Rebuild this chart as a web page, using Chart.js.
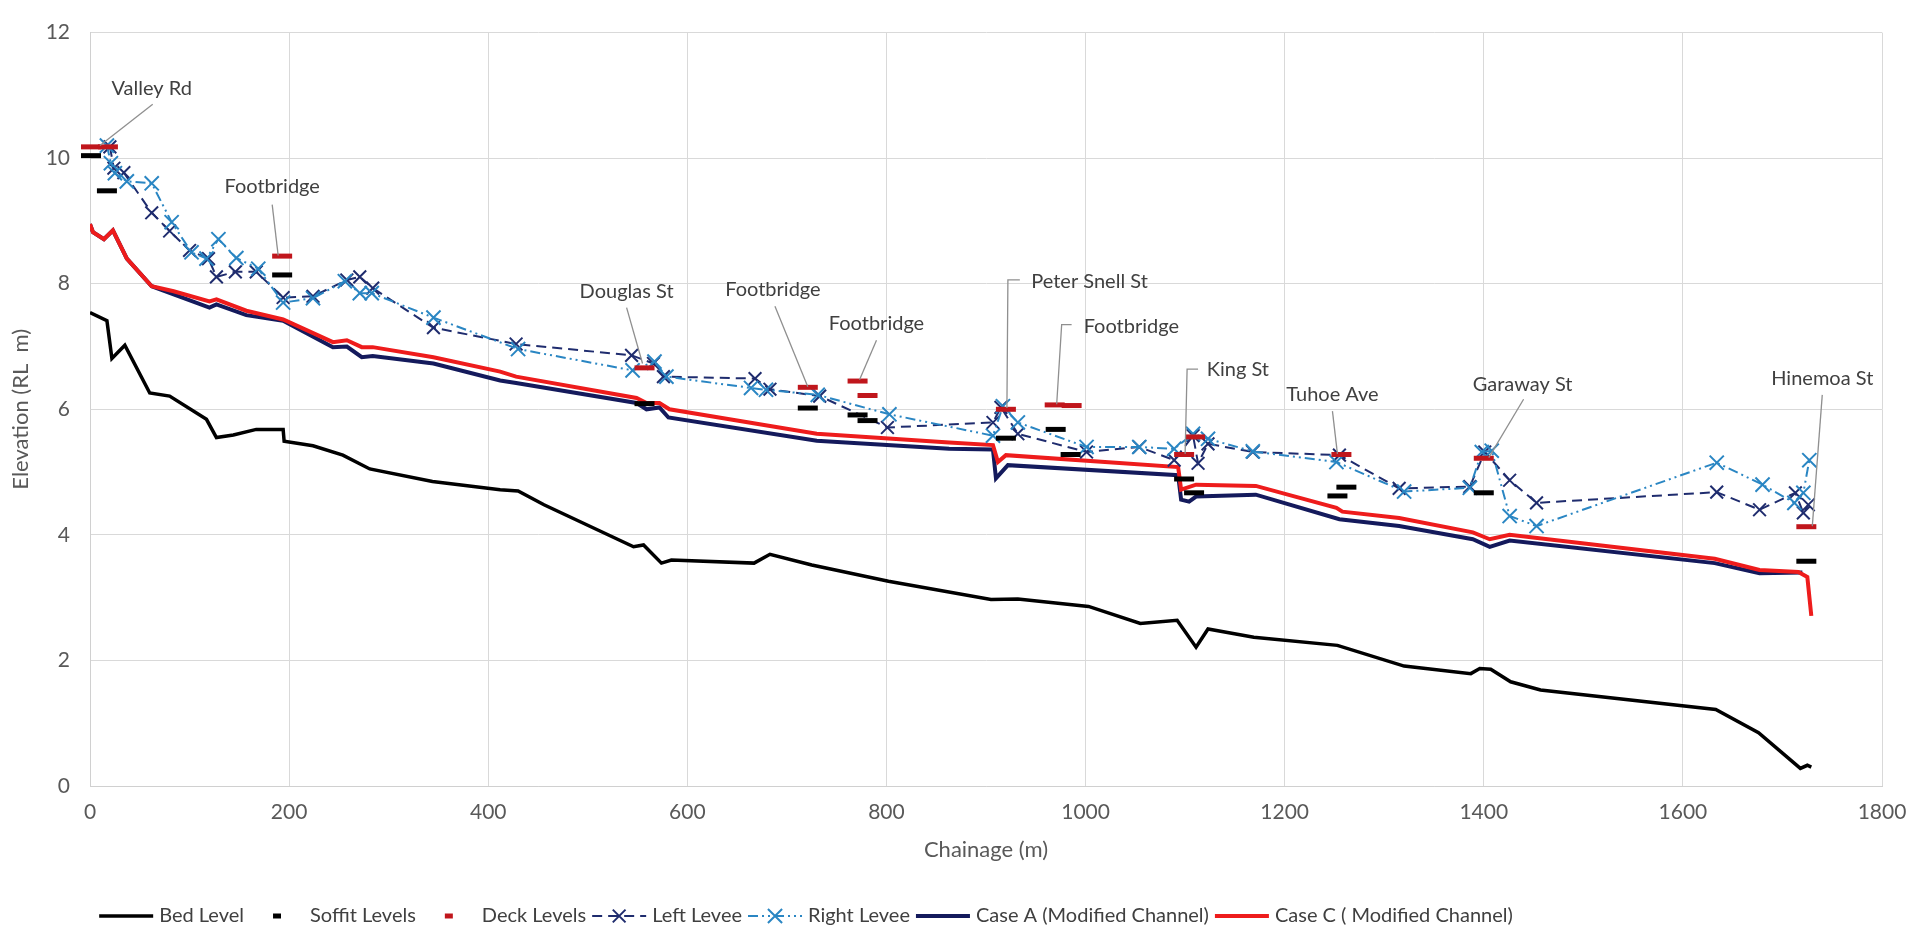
<!DOCTYPE html>
<html>
<head>
<meta charset="utf-8">
<title>Long section – modelled water levels</title>
<script src="https://cdn.jsdelivr.net/npm/chart.js@4.4.1/dist/chart.umd.min.js"></script>
<style>
  html, body { margin: 0; padding: 0; background: #ffffff; }
  #wrap { width: 1926px; height: 935px; }
</style>
</head>
<body>
<div id="wrap"><canvas id="chart" width="1926" height="935"></canvas></div>
<script>
// ---- Long-section data (chainage in m, levels in m RL) ----
const bedChainage = [0, 17, 22, 35, 60, 80, 117, 127, 144, 167, 194, 195, 224, 254, 281, 344, 412, 430, 456, 546, 556, 574, 584, 667, 683, 725, 802, 905, 932, 1003, 1055, 1092, 1111, 1123, 1169, 1253, 1320, 1387, 1396, 1407, 1427, 1457, 1633, 1676, 1718, 1725, 1729];
const bedLevel = [7.54, 7.41, 6.81, 7.02, 6.26, 6.21, 5.84, 5.55, 5.59, 5.68, 5.68, 5.49, 5.42, 5.27, 5.05, 4.85, 4.72, 4.70, 4.48, 3.81, 3.84, 3.55, 3.60, 3.55, 3.69, 3.52, 3.26, 2.97, 2.98, 2.86, 2.59, 2.64, 2.21, 2.50, 2.37, 2.24, 1.91, 1.79, 1.87, 1.86, 1.66, 1.53, 1.22, 0.85, 0.28, 0.33, 0.30];

const soffitChainage = [1, 17, 193, 557, 721, 771, 781, 920, 970, 985, 1099, 1109, 1253, 1262, 1400, 1724];
const soffitLevel = [10.04, 9.48, 8.14, 6.09, 6.02, 5.91, 5.82, 5.54, 5.68, 5.28, 4.89, 4.67, 4.62, 4.76, 4.67, 3.58];

const deckChainage = [1, 18, 193, 557, 721, 771, 781, 920, 969, 986, 1099, 1110, 1257, 1400, 1724];
const deckLevel = [10.18, 10.18, 8.44, 6.66, 6.35, 6.45, 6.22, 6.00, 6.07, 6.06, 5.28, 5.56, 5.28, 5.22, 4.13];

const leftLeveeChainage = [20, 24, 34, 62, 80, 100, 119, 127, 146, 167, 194, 224, 258, 271, 284, 345, 428, 544, 566, 576, 668, 683, 733, 801, 907, 915, 932, 1001, 1054, 1089, 1108, 1113, 1123, 1168, 1255, 1315, 1386, 1401, 1426, 1453, 1634, 1677, 1713, 1721, 1726];
const leftLeveeLevel = [10.18, 9.84, 9.77, 9.13, 8.84, 8.53, 8.40, 8.11, 8.19, 8.19, 7.78, 7.80, 8.06, 8.11, 7.93, 7.30, 7.04, 6.86, 6.73, 6.52, 6.49, 6.32, 6.21, 5.71, 5.79, 6.03, 5.61, 5.32, 5.40, 5.19, 5.58, 5.14, 5.45, 5.32, 5.27, 4.74, 4.77, 5.32, 4.87, 4.51, 4.68, 4.40, 4.67, 4.35, 4.48];

const rightLeveeChainage = [17, 21, 25, 37, 62, 82, 102, 117, 129, 147, 169, 194, 224, 256, 271, 283, 345, 430, 545, 567, 579, 664, 679, 731, 803, 907, 917, 932, 1001, 1054, 1089, 1108, 1123, 1168, 1252, 1320, 1386, 1398, 1408, 1426, 1453, 1634, 1680, 1712, 1721, 1727];
const rightLeveeLevel = [10.20, 9.92, 9.76, 9.63, 9.60, 8.98, 8.50, 8.40, 8.71, 8.41, 8.24, 7.70, 7.77, 8.04, 7.85, 7.85, 7.46, 6.96, 6.62, 6.76, 6.52, 6.34, 6.31, 6.23, 5.92, 5.58, 6.05, 5.79, 5.40, 5.40, 5.37, 5.61, 5.53, 5.33, 5.16, 4.69, 4.75, 5.32, 5.34, 4.30, 4.14, 5.15, 4.80, 4.51, 4.67, 5.19];

const caseAChainage = [0, 3, 14, 23, 37, 62, 84, 120, 127, 157, 194, 244, 258, 273, 284, 345, 412, 428, 549, 559, 572, 581, 730, 863, 907, 910, 922, 1093, 1096, 1104, 1111, 1171, 1255, 1315, 1389, 1406, 1426, 1632, 1677, 1720];
const caseALevel = [8.95, 8.82, 8.71, 8.85, 8.40, 7.96, 7.83, 7.62, 7.67, 7.50, 7.41, 6.99, 7.00, 6.83, 6.85, 6.73, 6.46, 6.42, 6.10, 6.00, 6.03, 5.87, 5.50, 5.37, 5.36, 4.90, 5.11, 4.95, 4.56, 4.53, 4.61, 4.64, 4.25, 4.14, 3.93, 3.81, 3.91, 3.55, 3.39, 3.40];

const caseCChainage = [0, 3, 14, 23, 37, 62, 84, 120, 127, 157, 194, 244, 258, 273, 284, 345, 412, 428, 549, 559, 572, 582, 730, 863, 907, 912, 920, 1093, 1096, 1111, 1171, 1252, 1258, 1315, 1389, 1406, 1426, 1632, 1677, 1716, 1725, 1729];
const caseCLevel = [8.95, 8.82, 8.71, 8.85, 8.40, 7.96, 7.88, 7.72, 7.75, 7.57, 7.43, 7.07, 7.10, 6.99, 6.99, 6.83, 6.60, 6.52, 6.18, 6.10, 6.10, 6.00, 5.61, 5.47, 5.43, 5.16, 5.27, 5.08, 4.72, 4.80, 4.78, 4.43, 4.37, 4.27, 4.04, 3.93, 4.00, 3.62, 3.44, 3.41, 3.33, 2.71];

// Axis ticks
const chainageTicks = [0, 200, 400, 600, 800, 1000, 1200, 1400, 1600, 1800];
const elevationTicks = [0, 2, 4, 6, 8, 10, 12];

// Structure names and where their callouts sit (chainage, elevation)
const structureNames = ['Valley Rd', 'Footbridge', 'Douglas St', 'Footbridge', 'Footbridge', 'Peter Snell St', 'Footbridge', 'King St', 'Tuhoe Ave', 'Garaway St', 'Hinemoa St'];
const calloutAt = [[62, 11.11], [183, 9.55], [539, 7.88], [686, 7.90], [790, 7.37], [1004, 8.04], [1046, 7.32], [1153, 6.63], [1248, 6.24], [1439, 6.39], [1740, 6.49]];
const calloutLeader = [
  [[63, 10.86], [10, 10.20]],
  [[183, 9.26], [189, 8.45]],
  [[539, 7.62], [555, 6.73]],
  [[688, 7.64], [721, 6.36]],
  [[790, 7.10], [773, 6.47]],
  [[934, 8.06], [922, 8.06], [921, 6.02]],
  [[986, 7.35], [976, 7.35], [971, 6.08]],
  [[1113, 6.64], [1102, 6.64], [1100, 5.29]],
  [[1248, 5.97], [1253, 5.29]],
  [[1440, 6.16], [1405, 5.23]],
  [[1740, 6.23], [1730, 4.14]]
];

const pairs = (xs, ys) => xs.map((x, i) => ({ x: x, y: ys[i] }));

const FONT = 'Lato';
const TEXT = '#404040';

// Callout labels with grey leader lines
const calloutPlugin = {
  id: 'callouts',
  afterDatasetsDraw(chart) {
    const { ctx, scales: { x, y } } = chart;
    ctx.save();
    ctx.strokeStyle = '#8f8f8f';
    ctx.lineWidth = 1.3;
    calloutLeader.forEach(path => {
      ctx.beginPath();
      path.forEach((p, i) => {
        const px = x.getPixelForValue(p[0]), py = y.getPixelForValue(p[1]);
        if (i === 0) ctx.moveTo(px, py); else ctx.lineTo(px, py);
      });
      ctx.stroke();
    });
    ctx.fillStyle = TEXT;
    ctx.font = '20px ' + FONT;
    ctx.textAlign = 'center';
    ctx.textBaseline = 'middle';
    structureNames.forEach((name, i) => {
      ctx.fillText(name, x.getPixelForValue(calloutAt[i][0]), y.getPixelForValue(calloutAt[i][1]));
    });
    ctx.restore();
  }
};

// Legend row under the axis title: line / marker samples drawn from each dataset's style
const legendPlugin = {
  id: 'rowLegend',
  afterDraw(chart) {
    const { ctx } = chart;
    const sets = chart.data.datasets.slice().sort((a, b) => a.legendIndex - b.legendIndex);
    const sampleW = 54, gapText = 6, gapItem = 6, cy = 916;
    ctx.save();
    ctx.font = '20px ' + FONT;
    const widths = sets.map(ds => sampleW + gapText + ctx.measureText(ds.label).width);
    const total = widths.reduce((a, b) => a + b, 0) + gapItem * (sets.length - 1);
    let x0 = 806 - total / 2;
    sets.forEach((ds, i) => {
      const cx = x0 + sampleW / 2;
      if (ds.showLine !== false) {
        ctx.save();
        ctx.strokeStyle = ds.borderColor;
        ctx.lineWidth = ds.borderWidth;
        ctx.setLineDash(ds.borderDash || []);
        ctx.beginPath();
        ctx.moveTo(x0, cy);
        ctx.lineTo(x0 + sampleW, cy);
        ctx.stroke();
        ctx.restore();
      }
      if (ds.pointRadius > 0) {
        ctx.save();
        ctx.strokeStyle = ds.borderColor;
        ctx.fillStyle = ds.borderColor;
        ctx.lineWidth = ds.pointBorderWidth;
        ctx.setLineDash([]);
        const r = ds.pointStyle === 'line' ? 4 : ds.pointRadius;
        Chart.helpers.drawPoint(ctx, { pointStyle: ds.pointStyle, rotation: 0, radius: r, borderWidth: ds.pointBorderWidth }, cx, cy);
        ctx.restore();
      }
      ctx.fillStyle = TEXT;
      ctx.textAlign = 'left';
      ctx.textBaseline = 'middle';
      ctx.fillText(ds.label, x0 + sampleW + gapText, cy);
      x0 += widths[i] + gapItem;
    });
    ctx.restore();
  }
};

function build() {
  Chart.defaults.font.family = FONT;
  Chart.defaults.color = '#595959';

  new Chart(document.getElementById('chart'), {
    type: 'line',
    data: {
      datasets: [
        {
          label: 'Bed Level', legendIndex: 0, order: 6,
          data: pairs(bedChainage, bedLevel),
          borderColor: '#000000', borderWidth: 3.5, pointRadius: 0, tension: 0
        },
        {
          label: 'Soffit Levels', legendIndex: 1, order: 1, showLine: false, clip: false,
          data: pairs(soffitChainage, soffitLevel),
          borderColor: '#000000', backgroundColor: '#000000',
          pointStyle: 'line', pointRadius: 10, pointBorderWidth: 5, pointHoverRadius: 10
        },
        {
          label: 'Deck Levels', legendIndex: 2, order: 0, showLine: false, clip: false,
          data: pairs(deckChainage, deckLevel),
          borderColor: '#c0161c', backgroundColor: '#c0161c',
          pointStyle: 'line', pointRadius: 10, pointBorderWidth: 5, pointHoverRadius: 10
        },
        {
          label: 'Left Levee', legendIndex: 3, order: 3,
          data: pairs(leftLeveeChainage, leftLeveeLevel),
          borderColor: '#1f2c6e', backgroundColor: '#1f2c6e', borderWidth: 2, borderDash: [10, 6],
          pointStyle: 'crossRot', pointRadius: 9, pointBorderWidth: 2, tension: 0
        },
        {
          label: 'Right Levee', legendIndex: 4, order: 2,
          data: pairs(rightLeveeChainage, rightLeveeLevel),
          borderColor: '#2a86c3', backgroundColor: '#2a86c3', borderWidth: 2, borderDash: [10, 4, 2, 4, 2, 4],
          pointStyle: 'crossRot', pointRadius: 10, pointBorderWidth: 2, tension: 0
        },
        {
          label: 'Case A (Modified Channel)', legendIndex: 5, order: 5,
          data: pairs(caseAChainage, caseALevel),
          borderColor: '#141a5c', borderWidth: 4, pointRadius: 0, tension: 0
        },
        {
          label: 'Case C ( Modified Channel)', legendIndex: 6, order: 4,
          data: pairs(caseCChainage, caseCLevel),
          borderColor: '#ee1c1c', borderWidth: 4, pointRadius: 0, tension: 0
        }
      ]
    },
    options: {
      responsive: false,
      animation: false,
      events: [],
      layout: { padding: { top: 21, right: 44, bottom: 62, left: 0 } },
      plugins: { legend: { display: false }, tooltip: { enabled: false } },
      scales: {
        x: {
          type: 'linear', min: 0, max: 1800,
          afterBuildTicks: s => { s.ticks = chainageTicks.map(v => ({ value: v })); },
          afterFit: s => { s.height = 87; },
          grid: { color: '#d9d9d9', lineWidth: 1, drawTicks: false },
          border: { color: '#d0d0d0', width: 1 },
          ticks: { padding: 14, font: { size: 21 }, color: '#595959', maxRotation: 0, callback: v => String(v) },
          title: { display: true, text: 'Chainage (m)', font: { size: 22 }, color: '#595959', padding: { top: 0, bottom: 10 } }
        },
        y: {
          type: 'linear', min: 0, max: 12,
          afterBuildTicks: s => { s.ticks = elevationTicks.map(v => ({ value: v })); },
          afterFit: s => { s.width = 90; },
          grid: { color: '#d9d9d9', lineWidth: 1, drawTicks: false },
          border: { color: '#d0d0d0', width: 1 },
          ticks: { padding: 20, font: { size: 21 }, color: '#595959', callback: v => String(v) },
          title: { display: true, text: 'Elevation (RL  m)', font: { size: 22 }, color: '#595959', padding: { top: 8, bottom: 0 } }
        }
      }
    },
    plugins: [calloutPlugin, legendPlugin]
  });
}

if (document.fonts && document.fonts.load) {
  Promise.all([document.fonts.load('20px Lato'), document.fonts.load('21px Lato')]).then(build, build);
} else {
  build();
}
</script>
</body>
</html>
